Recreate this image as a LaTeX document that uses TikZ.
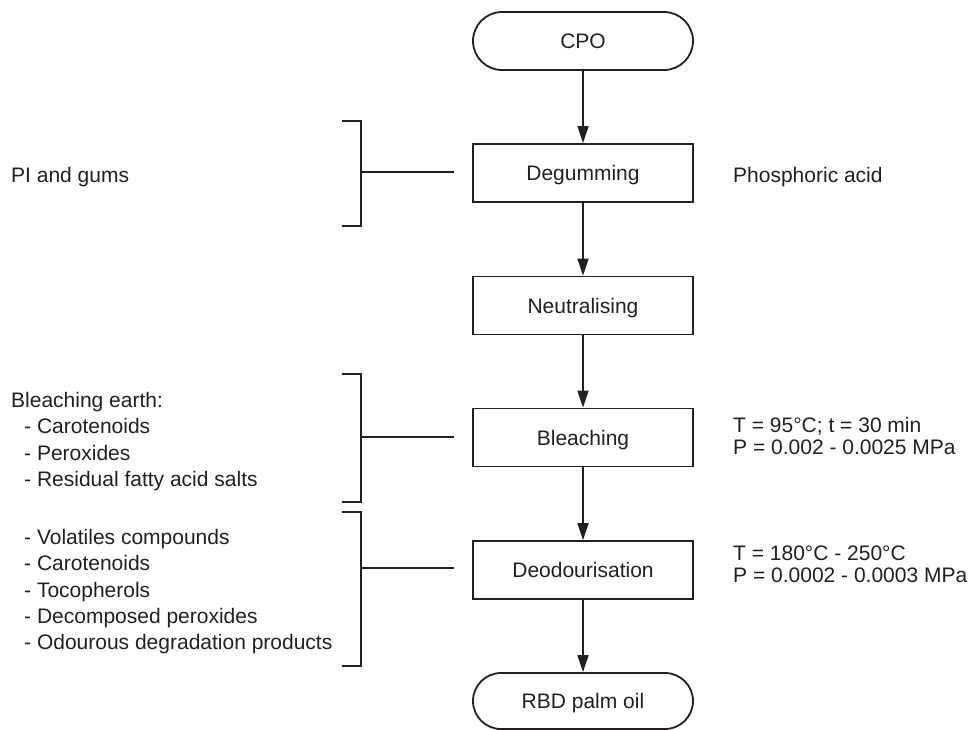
\documentclass[tikz,border=0pt]{standalone}
\usepackage{fontspec}
\setmainfont{Liberation Sans}
\usetikzlibrary{arrows.meta,shapes.misc}
\definecolor{ink}{HTML}{231F20}
\begin{document}
\begin{tikzpicture}[x=1pt,y=-1pt,
  every node/.style={text=ink, font=\fontsize{21}{22}\selectfont},
  stepbox/.style={draw=ink, line width=1.8pt, minimum width=220pt, minimum height=58pt,
                  inner sep=0pt, text height=15pt, text depth=0pt},
  term/.style={stepbox, rounded rectangle},
  flow/.style={draw=ink, line width=1.7pt, -{Triangle[width=11pt,length=17pt]}},
  brk/.style={draw=ink, line width=1.8pt},
  lbl/.style={inner sep=0pt, align=left, anchor=north west},
  wide/.style={font=\fontsize{21}{26.3}\selectfont},
  single/.style={inner sep=0pt, anchor=base west}]
\useasboundingbox (0,0) rectangle (971,729);

% process column
\node[term]    (cpo) at (583,41)    {CPO};
\node[stepbox] (deg) at (583,173)   {Degumming};
\node[stepbox] (neu) at (583,305.5) {Neutralising};
\node[stepbox] (ble) at (583,437.5) {Bleaching};
\node[stepbox] (deo) at (583,570)   {Deodourisation};
\node[term, minimum height=56pt] (rbd) at (583,701) {RBD palm oil};

\draw[flow] (cpo) -- (deg);
\draw[flow] (deg) -- (neu);
\draw[flow] (neu) -- (ble);
\draw[flow] (ble) -- (deo);
\draw[flow] (deo) -- (rbd);

% left texts
\node[single] (pig) at (11,182) {PI and gums};
\node[lbl, wide] (bea) at (11,392) {Bleaching earth:\\\hspace*{13pt}- Carotenoids\\\hspace*{13pt}- Peroxides\\\hspace*{13pt}- Residual fatty acid salts};
\node[lbl, wide] (vol) at (24,529) {- Volatiles compounds\\- Carotenoids\\- Tocopherols\\- Decomposed peroxides\\- Odourous degradation products};

% right texts
\node[single] (pho) at (733,182) {Phosphoric acid};
\node[lbl] (bcond) at (733,417) {T = 95°C; t = 30 min\\P = 0.002 - 0.0025 MPa};
\node[lbl] (dcond) at (733,546) {T = 180°C - 250°C\\P = 0.0002 - 0.0003 MPa};

% brackets
\coordinate (b1t) at (342,121); \coordinate (b1b) at (342,226);
\coordinate (b1m) at (361,172); \coordinate (b1e) at (454,172);
\coordinate (b2t) at (342,374); \coordinate (b2b) at (342,502);
\coordinate (b2m) at (361,437); \coordinate (b2e) at (454,437);
\coordinate (b3t) at (342,512); \coordinate (b3b) at (342,666);
\coordinate (b3m) at (361,568); \coordinate (b3e) at (454,568);

\draw[brk] (b1t) -| (b1m) |- (b1b);
\draw[brk] (b1m) -- (b1e);
\draw[brk] (b2t) -| (b2m) |- (b2b);
\draw[brk] (b2m) -- (b2e);
\draw[brk] (b3t) -| (b3m) |- (b3b);
\draw[brk] (b3m) -- (b3e);
\end{tikzpicture}
\end{document}
